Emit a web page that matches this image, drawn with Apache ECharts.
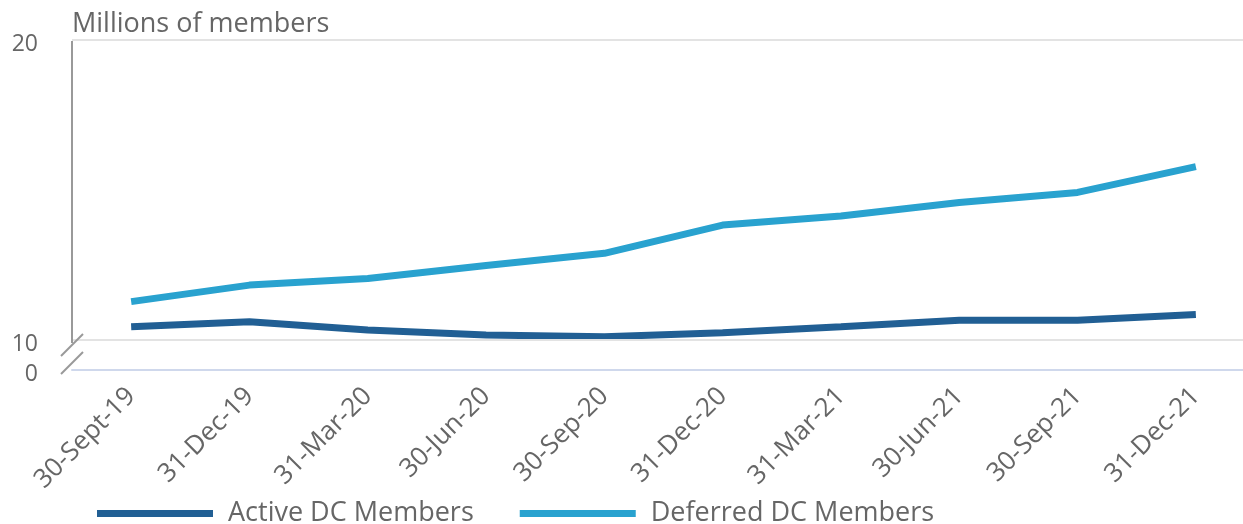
<html lang="en">
<head>
    <meta charset="UTF-8">
    <title>DC members</title>
    <script src="https://cdn.jsdelivr.net/npm/echarts@6/dist/echarts.min.js"></script>
    <style>
        html, body { margin: 0; padding: 0; background: #fff; }
    </style>
</head>
<body>
<div id="mychart" style="width: 1243px;height: 524px;"></div>
<script>
    // quarter ends
    var categories = ['30-Sept-19', '31-Dec-19', '31-Mar-20', '30-Jun-20', '30-Sep-20',
        '31-Dec-20', '31-Mar-21', '30-Jun-21', '30-Sep-21', '31-Dec-21'];
    // millions of members
    var activeDC = [10.44, 10.61, 10.33, 10.17, 10.11, 10.24, 10.44, 10.66, 10.66, 10.85];
    var deferredDC = [11.28, 11.83, 12.05, 12.48, 12.89, 13.83, 14.13, 14.58, 14.92, 15.78];
    // the axis is broken below 10: the bottom of the plot stands for 0
    var yTickLabels = {9: '0', 10: '10', 20: '20'};
    var gridLines = [10, 20];

    var font = 'Open Sans';
    var textColor = '#666';
    var gridLeft = 72;

    var e = echarts.init(document.getElementById('mychart'));
    var op = {
        animation: false,
        title: {
            text: 'Millions of members',
            left: gridLeft,
            top: 11,
            padding: 0,
            textStyle: {fontFamily: font, fontSize: 27, fontWeight: 'normal', color: textColor}
        },
        legend: {
            left: 97,
            top: 500,
            padding: 0,
            icon: 'rect',
            itemWidth: 116,
            itemHeight: 7,
            itemGap: 46,
            textStyle: {fontFamily: font, fontSize: 27, color: textColor, padding: [0, 0, 0, 10]},
            data: ['Active DC Members', 'Deferred DC Members']
        },
        grid: {
            left: gridLeft,
            top: 40,
            width: 1183,
            height: 330,
            outerBoundsMode: 'none'
        },
        xAxis: {
            type: 'category',
            data: categories,
            boundaryGap: true,
            axisLine: {lineStyle: {color: '#cfd8ec', width: 2}},
            axisTick: {alignWithLabel: true, length: 20, lineStyle: {color: '#cfd8ec', width: 2}},
            axisLabel: {rotate: 45, margin: 22, fontFamily: font, fontSize: 26, color: textColor, interval: 0}
        },
        yAxis: {
            type: 'value',
            min: 9,
            max: 20,
            interval: 1,
            axisLine: {show: false},
            axisTick: {show: false},
            splitLine: {show: false},
            axisLabel: {
                margin: 34,
                fontFamily: font,
                fontSize: 23,
                color: textColor,
                formatter: function (v) {
                    return yTickLabels[v] !== undefined ? '{t|' + yTickLabels[v] + '}' : '';
                },
                rich: {
                    t: {fontFamily: font, fontSize: 23, color: textColor, padding: [9, 0, 0, 0]}
                }
            }
        },
        series: [{
            name: 'Active DC Members',
            type: 'line',
            data: activeDC,
            symbol: 'none',
            color: '#215f94',
            lineStyle: {width: 7, color: '#215f94'},
            z: 3,
            markLine: {
                silent: true,
                symbol: 'none',
                label: {show: false},
                lineStyle: {color: '#e3e3e3', width: 2, type: 'solid'},
                data: gridLines.map(function (v) { return {yAxis: v}; })
            }
        }, {
            name: 'Deferred DC Members',
            type: 'line',
            data: deferredDC,
            symbol: 'none',
            color: '#29a2cf',
            lineStyle: {width: 7, color: '#29a2cf'},
            z: 3
        }]
    };
    e.setOption(op);

    // vertical axis line and the break marks
    var y20 = e.convertToPixel({yAxisIndex: 0}, 20);
    var y10 = e.convertToPixel({yAxisIndex: 0}, 10);
    var y0 = e.convertToPixel({yAxisIndex: 0}, 9);
    var axisStyle = {stroke: '#999', lineWidth: 2};
    e.setOption({
        graphic: [
            {type: 'line', shape: {x1: gridLeft, y1: y20 + 1, x2: gridLeft, y2: y10 + 3}, style: axisStyle, z: 10},
            {type: 'line', shape: {x1: gridLeft - 11, y1: y10 + 16, x2: gridLeft + 11, y2: y10 - 6}, style: axisStyle, z: 10},
            {type: 'line', shape: {x1: gridLeft - 11, y1: y0 + 4, x2: gridLeft + 11, y2: y0 - 18}, style: axisStyle, z: 10}
        ]
    });
</script>
</body>
</html>
